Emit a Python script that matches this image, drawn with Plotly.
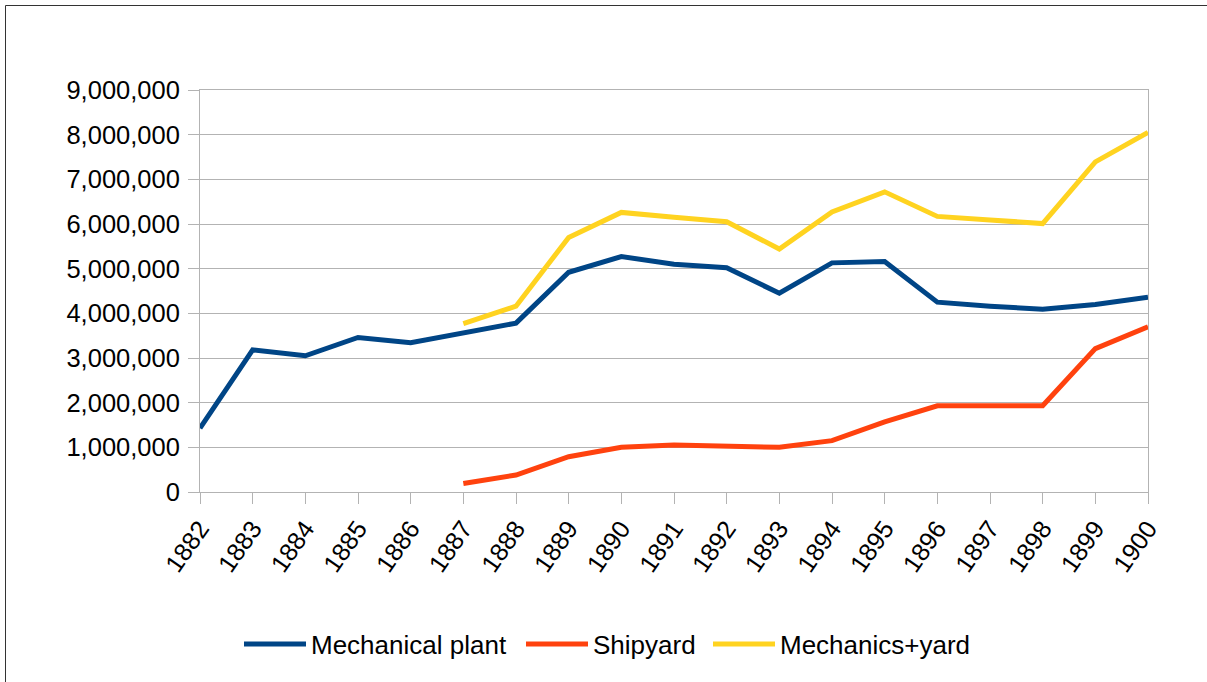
import plotly.graph_objects as go

years = list(range(1882, 1901))
mechanical_plant = [1430000, 3180000, 3050000, 3460000, 3340000, 3570000, 3780000, 4920000, 5270000,
                    5100000, 5020000, 4450000, 5130000, 5160000, 4250000, 4160000, 4090000, 4200000, 4360000]
shipyard = [None, None, None, None, None, 190000, 380000, 790000, 1000000,
            1050000, 1030000, 1000000, 1150000, 1570000, 1930000, 1930000, 1930000, 3210000, 3700000]
mechanics_yard = [None, None, None, None, None, 3770000, 4160000, 5700000, 6260000,
                  6150000, 6050000, 5440000, 6270000, 6720000, 6170000, 6090000, 6010000, 7390000, 8050000]
y_ticks = list(range(0, 9000001, 1000000))
y_tick_labels = [f"{v:,}" for v in y_ticks]

FONT = "Liberation Sans, Arial, sans-serif"
GRID = "#b3b3b3"

W, H = 1207, 682
L, R, T, B = 200, 59, 90, 190
PW, PH = W - L - R, H - T - B


def px_x(p):
    return (p - L) / PW


def px_y(p):
    return (H - B - p) / PH


fig = go.Figure()
fig.add_trace(go.Scatter(x=years, y=mechanical_plant, name="Mechanical plant", mode="lines",
                         line=dict(color="#004586", width=5), legend="legend"))
fig.add_trace(go.Scatter(x=years, y=shipyard, name="Shipyard", mode="lines",
                         line=dict(color="#ff420e", width=5), legend="legend2"))
fig.add_trace(go.Scatter(x=years, y=mechanics_yard, name="Mechanics+yard", mode="lines",
                         line=dict(color="#ffd320", width=5), legend="legend3"))

leg_common = dict(orientation="h", yanchor="middle", y=px_y(644), xanchor="left",
                  font=dict(size=26, family=FONT, color="black"), itemwidth=62,
                  bgcolor="rgba(0,0,0,0)")

fig.update_layout(
    width=W, height=H,
    margin=dict(l=L, r=R, t=T, b=B, autoexpand=False),
    paper_bgcolor="white", plot_bgcolor="white",
    font=dict(family=FONT, size=25, color="black"),
    showlegend=True,
    legend=dict(x=px_x(239), **leg_common),
    legend2=dict(x=px_x(521), **leg_common),
    legend3=dict(x=px_x(708), **leg_common),
    shapes=[dict(type="rect", xref="paper", yref="paper",
                 x0=px_x(5.5), x1=px_x(1230), y0=px_y(700), y1=px_y(5.5),
                 line=dict(color="#333333", width=1), layer="below")],
)
fig.update_xaxes(
    range=[1882, 1900], tickmode="array", tickvals=years, ticktext=[str(y) for y in years],
    tickangle=-55, ticks="outside", ticklen=11, tickcolor=GRID, tickwidth=1,
    showline=True, linecolor=GRID, linewidth=1, mirror=True,
    showgrid=False, zeroline=False, tickfont=dict(size=25),
)
fig.update_yaxes(
    range=[0, 9000000], tickmode="array", tickvals=y_ticks, ticktext=y_tick_labels,
    ticks="outside", ticklen=11, tickcolor=GRID, tickwidth=1,
    showline=True, linecolor=GRID, linewidth=1, mirror=True,
    showgrid=True, gridcolor=GRID, gridwidth=1, zeroline=False,
    tickfont=dict(size=25.5), ticklabelstandoff=3,
)

fig.write_html("out.html", config={"displayModeBar": False},
               post_script="document.body.style.margin='0';document.body.style.overflow='hidden';")
